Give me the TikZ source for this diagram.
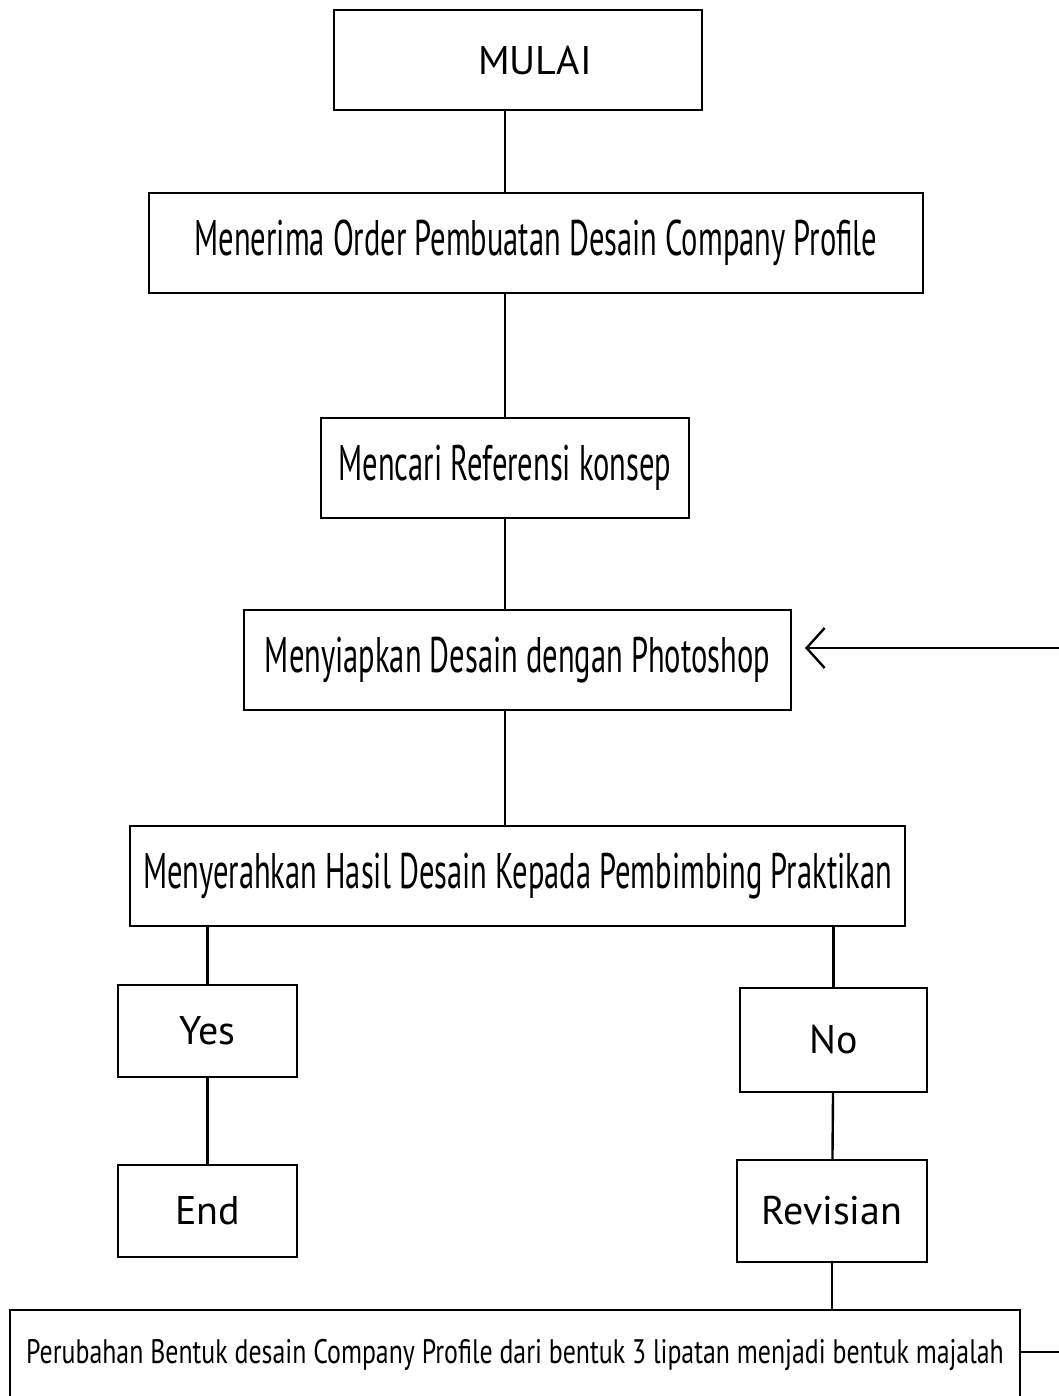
\documentclass[tikz,border=0pt]{standalone}
\usepackage{fontspec}
\setmainfont{PT Sans}
\newfontfamily\condfont[FakeStretch=0.61]{PT Sans}
\newfontfamily\notefont[FakeStretch=0.76]{PT Sans}
\usetikzlibrary{positioning,arrows.meta}

\begin{document}
\begin{tikzpicture}[
    line width=2.4pt,
    every node/.style={outer sep=0pt},
    plainbox/.style={rectangle, draw, align=center, inner sep=0pt, font=\fontsize{40}{44}\selectfont},
    stepbox/.style={rectangle, draw, align=center, inner sep=0pt, font=\condfont\fontsize{50}{55}\selectfont},
    notebox/.style={rectangle, draw, align=center, inner sep=0pt, font=\notefont\fontsize{34}{38}\selectfont},
    link/.style={-},
    arrow/.style={-{Straight Barb[length=18pt,width=40pt,line width=2.4pt]}}
]
    \useasboundingbox (0,0) rectangle (1059pt,-1396pt);

    % Main steps
    \node (mulai) [plainbox, minimum width=368pt, minimum height=100pt] at (518pt,-60pt) {\hspace*{34pt}MULAI};
    \node (order) [stepbox, below=83pt of mulai, xshift=18pt, minimum width=774pt, minimum height=100pt] {Menerima Order Pembuatan Desain Company Profile};
    \node (ref) [stepbox, below=125pt of order, xshift=-31pt, minimum width=368pt, minimum height=100pt] {Mencari Referensi konsep};
    \node (siap) [stepbox, below=92pt of ref, xshift=12.5pt, minimum width=547pt, minimum height=100pt] {Menyiapkan Desain dengan Photoshop};
    \node (serah) [stepbox, below=116pt of siap, minimum width=775pt, minimum height=100pt] {Menyerahkan Hasil Desain Kepada Pembimbing Praktikan};

    % Yes branch
    \node (yes) [plainbox, below=59pt of serah, xshift=-310pt, minimum width=179pt, minimum height=92pt] {Yes};
    \node (end) [plainbox, below=88pt of yes, minimum width=179pt, minimum height=92pt] {End};

    % No branch
    \node (no) [plainbox, below=62pt of serah, xshift=316pt, minimum width=187pt, minimum height=104pt] {No};
    \node (revisi) [plainbox, below=68pt of no, xshift=-1.5pt, minimum width=190pt, minimum height=102pt] {Revisian};
    \node (ubah) [notebox, below=48pt of revisi, xshift=-317pt, minimum width=1010pt, minimum height=90pt] {Perubahan Bentuk desain Company Profile dari bentuk 3 lipatan menjadi bentuk majalah};

    % Helper coordinates
    \coordinate (spine) at (505pt,0);
    \coordinate (loop) at (1075pt,0);

    % Connectors
    \draw [link] (mulai.south -| spine) -- (order.north -| spine);
    \draw [link] (order.south -| spine) -- (ref.north -| spine);
    \draw [link] (ref.south -| spine) -- (siap.north -| spine);
    \draw [link] (siap.south -| spine) -- (serah.north -| spine);
    \draw [link] (serah.south -| yes) -- (yes.north);
    \draw [link] (yes) -- (end);
    \draw [link] (serah.south -| no) -- (no.north);
    \draw [link] (no) -- (revisi);
    \draw [link] (revisi.south) -- (revisi.south |- ubah.north);

    % Revision loop back
    \draw [arrow] ([yshift=3pt]ubah.east) -- ([yshift=3pt]ubah.east -| loop) |- ([xshift=14pt,yshift=12pt]siap.east);

\end{tikzpicture}
\end{document}
